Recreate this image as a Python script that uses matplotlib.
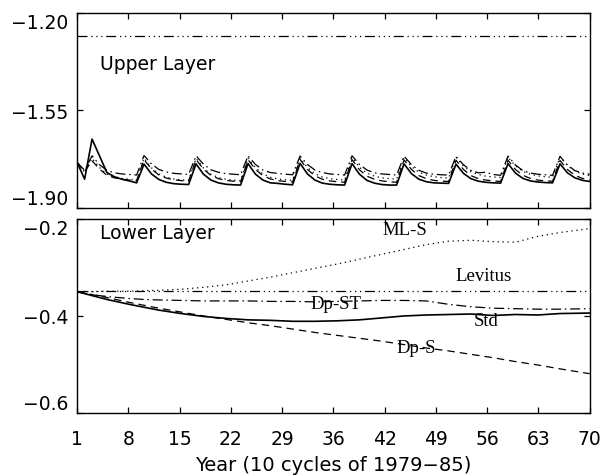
"""Upper/lower layer salinity drift over 10 cycles of 1979-85."""
import matplotlib
matplotlib.use("Agg")
import matplotlib.pyplot as plt

plt.rcParams["font.family"] = ["DejaVu Sans"]

# ---- data -------------------------------------------------------------
YEARS = list(range(1, 71))

STD_UP = [-1.737, -1.797, -1.653, -1.713, -1.773, -1.788, -1.797, -1.803, -1.810,
          -1.743, -1.778, -1.798, -1.808, -1.813, -1.815, -1.816,
          -1.742, -1.779, -1.800, -1.810, -1.815, -1.817, -1.818,
          -1.741, -1.779, -1.800, -1.810, -1.812, -1.815, -1.817,
          -1.740, -1.778, -1.800, -1.811, -1.815, -1.817, -1.818,
          -1.741, -1.779, -1.801, -1.811, -1.816, -1.818, -1.818,
          -1.742, -1.777, -1.797, -1.806, -1.810, -1.811, -1.812,
          -1.743, -1.776, -1.795, -1.804, -1.808, -1.810, -1.811,
          -1.741, -1.775, -1.794, -1.803, -1.807, -1.809, -1.810,
          -1.742, -1.774, -1.792, -1.801, -1.805]
DPS_UP = [-1.737, -1.770, -1.731, -1.760, -1.783, -1.792, -1.797, -1.800, -1.802,
          -1.727, -1.760, -1.782, -1.793, -1.799, -1.802, -1.804,
          -1.726, -1.761, -1.783, -1.795, -1.801, -1.804, -1.806,
          -1.727, -1.762, -1.784, -1.796, -1.802, -1.805, -1.807,
          -1.726, -1.762, -1.785, -1.797, -1.803, -1.806, -1.808,
          -1.727, -1.763, -1.786, -1.797, -1.803, -1.806, -1.808,
          -1.728, -1.762, -1.784, -1.795, -1.801, -1.804, -1.805,
          -1.729, -1.762, -1.784, -1.795, -1.800, -1.803, -1.805,
          -1.729, -1.762, -1.783, -1.794, -1.800, -1.803, -1.804,
          -1.730, -1.762, -1.783, -1.794, -1.799]
DPST_UP = [-1.737, -1.765, -1.713, -1.745, -1.765, -1.774, -1.778, -1.780, -1.782,
           -1.712, -1.742, -1.762, -1.771, -1.776, -1.778, -1.780,
           -1.713, -1.743, -1.763, -1.772, -1.777, -1.779, -1.781,
           -1.713, -1.744, -1.764, -1.773, -1.776, -1.779, -1.781,
           -1.714, -1.744, -1.764, -1.773, -1.778, -1.780, -1.782,
           -1.713, -1.744, -1.764, -1.774, -1.778, -1.780, -1.782,
           -1.714, -1.745, -1.765, -1.775, -1.779, -1.781, -1.782,
           -1.715, -1.745, -1.765, -1.774, -1.772, -1.780, -1.783,
           -1.714, -1.746, -1.766, -1.775, -1.779, -1.781, -1.783,
           -1.715, -1.746, -1.766, -1.775, -1.779]
MLS_UP = [-1.737, -1.772, -1.722, -1.755, -1.778, -1.788, -1.794, -1.797, -1.800,
          -1.722, -1.756, -1.778, -1.790, -1.796, -1.799, -1.801,
          -1.722, -1.757, -1.779, -1.791, -1.797, -1.800, -1.802,
          -1.721, -1.756, -1.778, -1.790, -1.796, -1.799, -1.801,
          -1.721, -1.755, -1.777, -1.789, -1.795, -1.798, -1.800,
          -1.720, -1.754, -1.775, -1.786, -1.792, -1.795, -1.797,
          -1.720, -1.752, -1.772, -1.782, -1.788, -1.791, -1.793,
          -1.719, -1.750, -1.770, -1.780, -1.786, -1.789, -1.791,
          -1.718, -1.749, -1.769, -1.779, -1.785, -1.788, -1.790,
          -1.717, -1.748, -1.768, -1.778, -1.784]
LEV_UP = -1.282

LOW_YEARS = [1, 3, 5, 8, 10, 12, 15, 18, 21, 24, 27, 30, 33, 36, 39, 42,
             45, 48, 51, 54, 57, 60, 63, 66, 70]
MLS_LOW = [-0.350, -0.350, -0.349, -0.349, -0.348, -0.347, -0.345, -0.341, -0.336,
           -0.328, -0.320, -0.311, -0.302, -0.293, -0.283, -0.273, -0.263, -0.253,
           -0.246, -0.244, -0.247, -0.248, -0.236, -0.228, -0.220]
DPST_LOW = [-0.350, -0.356, -0.360, -0.364, -0.366, -0.367, -0.368, -0.369, -0.369,
            -0.369, -0.370, -0.370, -0.371, -0.370, -0.369, -0.368, -0.368, -0.369,
            -0.376, -0.381, -0.384, -0.385, -0.386, -0.386, -0.385]
STD_LOW = [-0.350, -0.358, -0.366, -0.376, -0.382, -0.388, -0.395, -0.401, -0.405,
           -0.408, -0.409, -0.411, -0.411, -0.410, -0.408, -0.404, -0.400, -0.398,
           -0.397, -0.396, -0.399, -0.397, -0.398, -0.395, -0.394]
DPS_LOW = [-0.350, -0.356, -0.362, -0.372, -0.378, -0.384, -0.392, -0.400, -0.407,
           -0.414, -0.420, -0.427, -0.434, -0.440, -0.446, -0.452, -0.459, -0.466,
           -0.472, -0.479, -0.486, -0.494, -0.501, -0.509, -0.519]
LEV_LOW = -0.348

XTICKS = [1 + 6.9 * k for k in range(11)]
XTICK_LABELS = ["1", "8", "15", "22", "29", "36", "42", "49", "56", "63", "70"]
UP_TICKS = [-1.20, -1.55, -1.90]
UP_LABELS = ["\u22121.20", "\u22121.55", "\u22121.90"]
LOW_TICKS = [-0.2, -0.4, -0.6]
LOW_LABELS = ["\u22120.2", "\u22120.4", "\u22120.6"]

# name: (x, y, text) in data coords of the lower panel
CURVE_LABELS = [(45.1, -0.221, "ML-S"), (55.7, -0.317, "Levitus"),
                (35.8, -0.375, "Dp-ST"), (56.1, -0.410, "Std"),
                (46.6, -0.464, "Dp-S")]

STYLE = {
    "std":  dict(color="black", lw=1.2, ls="-"),
    "dps":  dict(color="black", lw=0.9, ls=(0, (6, 4))),
    "dpst": dict(color="black", lw=0.9, ls=(0, (8, 3, 1.2, 3))),
    "mls":  dict(color="black", lw=0.9, ls=(0, (1, 3))),
    "lev":  dict(color="black", lw=0.9, ls=(0, (8, 3, 1, 3, 1, 3, 1, 3))),
}

fig = plt.figure(figsize=(6.03, 4.77), dpi=100)
ax_up = fig.add_axes([0.128, 0.562, 0.850, 0.409])
ax_low = fig.add_axes([0.128, 0.132, 0.850, 0.407])

ax_up.plot(YEARS, MLS_UP, **STYLE["mls"])
ax_up.plot(YEARS, DPST_UP, **STYLE["dpst"])
ax_up.plot(YEARS, DPS_UP, **STYLE["dps"])
ax_up.plot(YEARS, STD_UP, **STYLE["std"])
ax_up.axhline(LEV_UP, **STYLE["lev"])

ax_low.plot(LOW_YEARS, MLS_LOW, **STYLE["mls"])
ax_low.plot(LOW_YEARS, DPST_LOW, **STYLE["dpst"])
ax_low.plot(LOW_YEARS, DPS_LOW, **STYLE["dps"])
ax_low.plot(LOW_YEARS, STD_LOW, **STYLE["std"])
ax_low.axhline(LEV_LOW, **STYLE["lev"])

for x, y, t in CURVE_LABELS:
    ax_low.text(x, y, t, ha="center", va="center", fontsize=13.5,
                family="Liberation Serif")

ax_up.text(0.045, 0.738, "Upper Layer", transform=ax_up.transAxes,
           fontsize=13.5, va="center")
ax_low.text(0.045, 0.928, "Lower Layer", transform=ax_low.transAxes,
            fontsize=13.5, va="center")

for ax in (ax_up, ax_low):
    ax.set_xlim(1, 70)
    ax.set_xticks(XTICKS)
    ax.tick_params(direction="in", top=True, right=True, length=4, width=0.9,
                   labelsize=13.5)
    ax.tick_params(axis="y", pad=6.5)
    ax.tick_params(axis="x", pad=11.5)
    for s in ax.spines.values():
        s.set_linewidth(1.0)

ax_up.set_ylim(-1.90, -1.20)
ax_up.set_yticks(UP_TICKS, UP_LABELS)
ax_up.set_xticklabels([])
ax_low.set_ylim(-0.6, -0.2)
ax_low.set_yticks(LOW_TICKS, LOW_LABELS)
ax_low.set_xticks(XTICKS, XTICK_LABELS)

# end labels sit inside the axis span, as in the original
for ax in (ax_up, ax_low):
    labs = ax.get_yticklabels()
    labs[0].set_va("top")
    labs[-1].set_va("bottom")

fig.text(0.553, 0.025, "Year (10 cycles of 1979\u221285)", ha="center",
         va="center", fontsize=14)

fig.savefig("out.png", dpi=100)
